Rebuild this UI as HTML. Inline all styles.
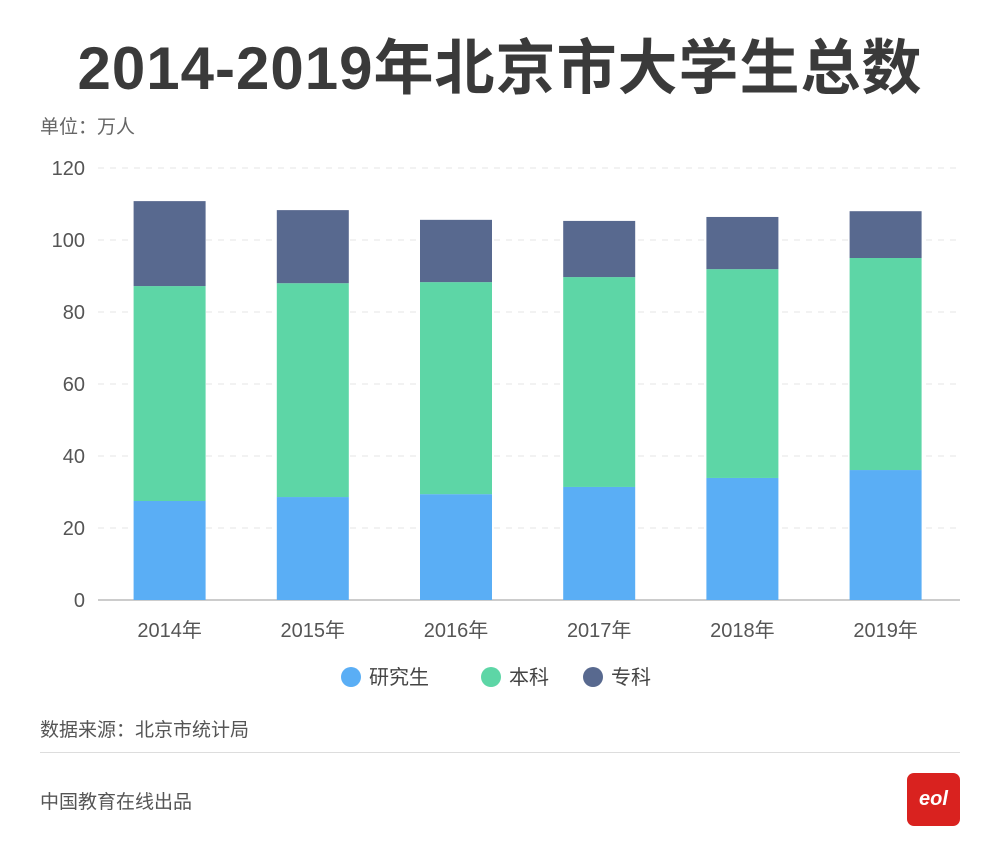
<!DOCTYPE html>
<html><head><meta charset="utf-8"><style>
body{margin:0;width:1000px;height:850px;background:#fff;font-family:"Liberation Sans","Noto Sans CJK SC",sans-serif;position:relative;overflow:hidden}
.t{position:absolute;white-space:nowrap}
</style></head><body>
<div class="t" style="left:0;width:1000px;text-align:center;top:20px;font-size:60px;font-weight:bold;color:#3a3a3a;letter-spacing:1px">2014-2019年北京市大学生总数</div>
<div class="t" style="left:40px;top:112px;font-size:19px;color:#666">单位：万人</div>
<svg id="c" width="1000" height="720" style="position:absolute;left:0;top:0"></svg>
<div class="t" style="left:40px;top:715px;font-size:19px;color:#555">数据来源：北京市统计局</div>
<div style="position:absolute;left:40px;top:752px;width:920px;height:1px;background:#ddd"></div>
<div class="t" style="left:40px;top:787px;font-size:19px;color:#555">中国教育在线出品</div>
<div style="position:absolute;left:907px;top:773px;width:53px;height:53px;border-radius:7px;background:#d9221f;color:#fff;font-size:20px;font-weight:bold;font-style:italic;text-align:center;line-height:53px">eol</div>
<script>
const categories=["2014年","2015年","2016年","2017年","2018年","2019年"];
const grad=[27.5,28.6,29.4,31.4,33.9,36.1];
const undergrad=[59.7,59.4,58.9,58.3,58.0,58.9];
const college=[23.6,20.3,17.3,15.6,14.5,13.0];
const yTicks=[0,20,40,60,80,100,120];
const seriesNames=["研究生","本科","专科"];
const colors=["#5aaef5","#5dd6a6","#58698f"];
const NS="http://www.w3.org/2000/svg",svg=document.getElementById('c');
const y0=600,ppu=3.6,x0=98,step=143.2,bw=72;
const y=v=>y0-v*ppu, xc=i=>x0+step*(i+0.5);
function el(t,a,txt){const e=document.createElementNS(NS,t);for(const k in a)e.setAttribute(k,a[k]);if(txt!=null)e.textContent=txt;svg.appendChild(e);return e;}
yTicks.forEach(v=>{
  if(v>0){const g=el('line',{x1:x0,x2:960,y1:y(v),y2:y(v),stroke:'#e4e4e4','stroke-dasharray':'6,6'});
  
  }
  const t=el('text',{x:85,y:y(v)+7,'text-anchor':'end','font-size':20,fill:'#555'},v);
  
  
});
const ax=el('line',{x1:x0,x2:960,y1:y0,y2:y0,stroke:'#999'});


const series=[grad,undergrad,college];
categories.forEach((c,i)=>{
  let base=0;
  series.forEach((s,k)=>{
    const r=el('rect',{x:xc(i)-bw/2,y:y(base+s[i]),width:bw,height:s[i]*ppu,fill:colors[k]});
    
    
    base+=s[i];
  });
  const t=el('text',{x:xc(i),y:637,'text-anchor':'middle','font-size':20,fill:'#555'},c);
  
  
});
const lx=[351,491,593];
seriesNames.forEach((n,k)=>{
  const c=el('circle',{cx:lx[k],cy:677,r:10,fill:colors[k]});
  
  
  const t=el('text',{x:lx[k]+18,y:684,'font-size':20,fill:'#444'},n);
  
  
});
</script>
</body></html>
